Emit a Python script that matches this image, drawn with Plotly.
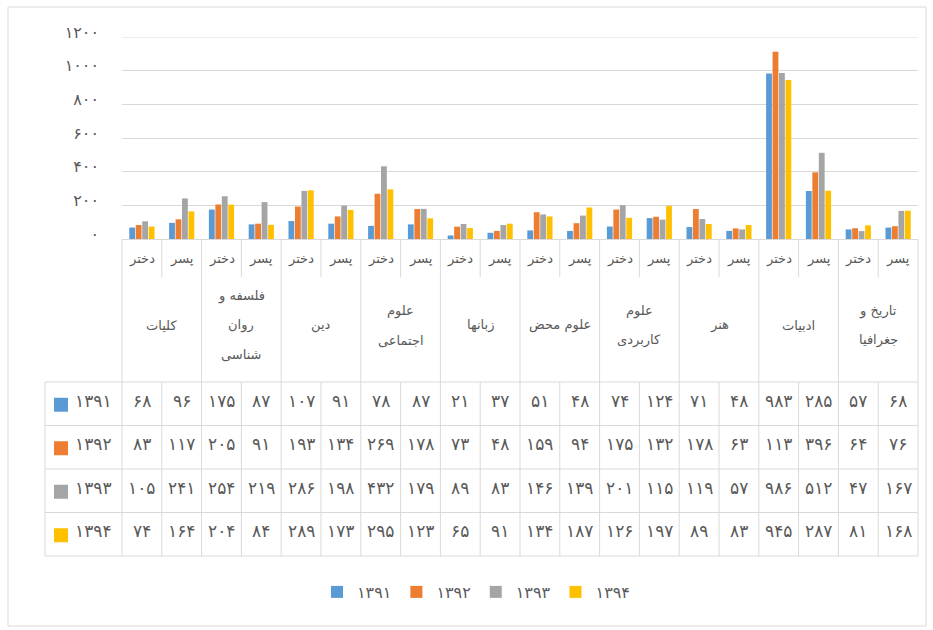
import plotly.graph_objects as go

# ---------------- data ----------------
groups = ["کلیات", "فلسفه و\nروان\nشناسی", "دین", "علوم\nاجتماعی", "زبانها",
          "علوم محض", "علوم\nکاربردی", "هنر", "ادبیات", "تاریخ و\nجغرافیا"]
genders = ["دختر", "پسر"]
years = ["1391", "1392", "1393", "1394"]

v1391 = [68, 96, 175, 87, 107, 91, 78, 87, 21, 37, 51, 48, 74, 124, 71, 48, 983, 285, 57, 68]
v1392 = [83, 117, 205, 91, 193, 134, 269, 178, 73, 48, 159, 94, 175, 132, 178, 63, 1113, 396, 64, 76]
v1393 = [105, 241, 254, 219, 286, 198, 432, 179, 89, 83, 146, 139, 201, 115, 119, 57, 986, 512, 47, 167]
v1394 = [74, 164, 204, 84, 289, 173, 295, 123, 65, 91, 134, 187, 126, 197, 89, 83, 945, 287, 81, 168]
series = [v1391, v1392, v1393, v1394]
# the source table prints this cell as 113 although the bar shows 1113
table_overrides = {(1, 16): "113"}

y_ticks = [0, 200, 400, 600, 800, 1000, 1200]
colors = ["#5B9BD5", "#ED7D31", "#A5A5A5", "#FFC000"]

# ---------------- helpers ----------------
FA = str.maketrans("0123456789", "۰۱۲۳۴۵۶۷۸۹")
def fa(v):
    return str(v).translate(FA)

W, H = 933, 630
PL, PR, PT, PB = 122, 918, 37, 239
def px(x):
    return (x - PL) / (PR - PL)
def py(y):
    return (PB - y) / (PB - PT)

TXT = "#595959"
LINE = "#D9D9D9"
FONT = "DejaVu Sans"
YS = -9  # vertical correction for Arabic-script text boxes

cats = [(g, s) for g in groups for s in genders]
n = len(cats)
xs = list(range(n))

fig = go.Figure()
for name, vals, col in zip(years, series, colors):
    fig.add_trace(go.Bar(x=xs, y=vals, name=fa(name), marker=dict(color=col, line=dict(width=0))))

shapes = []
annotations = []

# top gridline (guarantee it is drawn at the range edge)
shapes.append(dict(type="line", xref="paper", yref="y", x0=0, x1=1, y0=y_ticks[-1], y1=y_ticks[-1],
                   line=dict(color=LINE, width=1), layer="below"))

# table geometry
T_TOP = 382
ROW_H = 43.5
T_LEFT = 45
rows_y = [T_TOP + ROW_H * i for i in range(len(years) + 1)]
T_BOT = rows_y[-1]

def hline(y, x0, x1):
    shapes.append(dict(type="line", xref="paper", yref="paper", x0=x0, x1=x1, y0=py(y), y1=py(y),
                       line=dict(color=LINE, width=1), layer="below"))
def vline(x, y0, y1):
    shapes.append(dict(type="line", xref="paper", yref="paper", x0=x, x1=x, y0=py(y0), y1=py(y1),
                       line=dict(color=LINE, width=1), layer="below"))

for k in range(n + 1):
    xk = k / n
    if k % 2 == 0:
        vline(xk, PB, T_BOT)
    else:
        vline(xk, PB, 277)
        vline(xk, T_TOP, T_BOT)
vline(px(T_LEFT), T_TOP, T_BOT)
for y in rows_y:
    hline(y, px(T_LEFT), 1)

# outer frame
shapes.append(dict(type="rect", xref="paper", yref="paper", x0=px(8), x1=px(926), y0=py(626), y1=py(7),
                   line=dict(color=LINE, width=1), layer="below"))

# sub-category labels
for c, (g, s) in enumerate(cats):
    annotations.append(dict(x=c, xref="x", y=py(260), yref="paper", text=s, showarrow=False, yshift=YS,
                            font=dict(size=13, color=TXT, family=FONT)))

# group labels
for gi, g in enumerate(groups):
    lines = g.split("\n")
    m = len(lines)
    for li, t in enumerate(lines):
        yc = 326 + (li - (m - 1) / 2) * 29
        annotations.append(dict(x=2 * gi + 0.5, xref="x", y=py(yc), yref="paper", text=t, showarrow=False,
                                yshift=YS, font=dict(size=13, color=TXT, family=FONT)))

# data table
for r, (name, vals, col) in enumerate(zip(years, series, colors)):
    yc = (rows_y[r] + rows_y[r + 1]) / 2
    shapes.append(dict(type="rect", xref="paper", yref="paper", x0=px(54), x1=px(68), y0=py(yc + 8), y1=py(yc - 6),
                       fillcolor=col, line=dict(width=0)))
    annotations.append(dict(x=px(93), xref="paper", xanchor="center", y=py(yc), yref="paper", text=fa(name),
                            showarrow=False, yshift=YS, font=dict(size=17, color=TXT, family=FONT)))
    for c, v in enumerate(vals):
        t = table_overrides.get((r, c), str(v))
        annotations.append(dict(x=c, xref="x", y=py(yc), yref="paper", text=fa(t), showarrow=False,
                                yshift=YS, font=dict(size=17, color=TXT, family=FONT)))

fig.update_layout(
    width=W, height=H,
    margin=dict(l=PL, r=W - PR, t=PT, b=H - PB, pad=0),
    paper_bgcolor="white", plot_bgcolor="white",
    barmode="group", bargap=0.35, bargroupgap=0.1,
    font=dict(family=FONT, color=TXT),
    xaxis=dict(range=[-0.5, n - 0.5], showticklabels=False, showgrid=False, zeroline=False,
               showline=False, ticks="", fixedrange=True),
    yaxis=dict(range=[0, 1200], tickvals=y_ticks, ticktext=[fa(t) for t in y_ticks],
               showgrid=True, gridcolor=LINE, gridwidth=1, zeroline=True, zerolinecolor=LINE,
               zerolinewidth=1, showline=False, ticks="", ticklabelstandoff=22, ticklabelshift=-5,
               tickfont=dict(size=16, color=TXT, family=FONT), fixedrange=True),
    legend=dict(orientation="h", x=px(476), y=py(592), xanchor="center", yanchor="middle",
                font=dict(size=16, color=TXT, family=FONT), traceorder="normal"),
    shapes=shapes, annotations=annotations, showlegend=True,
)

fig.write_html("out.html", config={"displayModeBar": False},
               post_script="document.body.style.margin='0';document.body.style.overflow='hidden';")
